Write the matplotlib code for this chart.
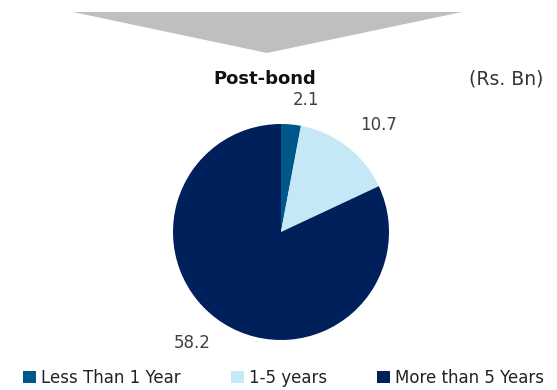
import matplotlib
matplotlib.use("Agg")
import matplotlib.pyplot as plt
from matplotlib.patches import Polygon, Patch

categories = ["Less Than 1 Year", "1-5 years", "More than 5 Years"]
values = [2.1, 10.7, 58.2]
colors = ["#00578a", "#c5e8f7", "#00205b"]
title = "Post-bond"
unit = "(Rs. Bn)"

plt.rcParams['font.family'] = ['DejaVu Sans']

W, H = 557, 390
fig = plt.figure(figsize=(W / 100, H / 100), dpi=100)

bg = fig.add_axes([0, 0, 1, 1])
bg.set_xlim(0, W)
bg.set_ylim(H, 0)
bg.axis("off")
bg.add_patch(Polygon([[73, 12], [462, 12], [267, 53]], closed=True,
                     facecolor="#bfbfbf", edgecolor="none"))
bg.text(265, 79, title, fontsize=13, fontweight="bold", ha="center", va="center", color="#111111")
bg.text(506, 79, unit, fontsize=13.5, ha="center", va="center", color="#333333")

cx, cy, r = 281, 232, 108
ax = fig.add_axes([(cx - r) / W, (H - cy - r) / H, 2 * r / W, 2 * r / H])
total = sum(values)
wedges, texts, autotexts = ax.pie(
    values, colors=colors, startangle=90, counterclock=False, radius=1,
    autopct=lambda p: f"{p * total / 100:.1f}", pctdistance=1.25,
    wedgeprops=dict(linewidth=0))
label_pos = [(0.23, 1.22), (0.90, 0.99), (-0.82, -1.03)]
for t, pos in zip(autotexts, label_pos):
    t.set_position(pos)
    t.set_fontsize(12)
    t.set_color("#404040")
ax.set_xlim(-1, 1)
ax.set_ylim(-1, 1)
ax.set_aspect("equal")

handles = [Patch(facecolor=c, edgecolor="none") for c in colors]
fig.legend(handles, categories, loc="lower center", bbox_to_anchor=(0.509, -0.03), ncol=3,
           frameon=False, fontsize=12, handlelength=0.8, handleheight=0.8,
           handletextpad=0.3, columnspacing=3.0, labelcolor="#222222")

fig.savefig("out.png", dpi=100)
